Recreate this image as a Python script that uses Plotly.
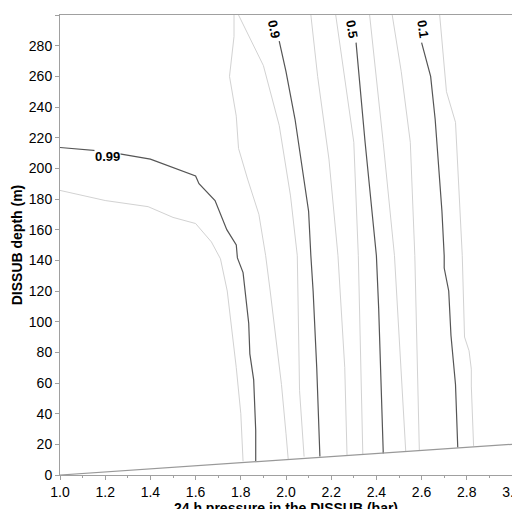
import plotly.graph_objects as go

# dark contours (labelled)
c099_x = [1.0, 1.2, 1.40, 1.60, 1.615, 1.686, 1.738, 1.78, 1.785, 1.81, 1.835, 1.84, 1.857, 1.866, 1.866]
c099_y = [213.6, 211, 206, 195, 190, 179, 160, 150, 141.6, 132, 99, 79, 62, 29, 9]
c09_x = [1.97, 2.0, 2.04, 2.10, 2.11, 2.12, 2.136, 2.15, 2.15]
c09_y = [283, 263, 232, 172, 143, 120, 70, 16, 12]
c05_x = [2.31, 2.35, 2.40, 2.41, 2.43, 2.43]
c05_y = [282, 217, 143, 109, 16, 14]
c01_x = [2.60, 2.64, 2.66, 2.69, 2.70, 2.70, 2.72, 2.73, 2.75, 2.76]
c01_y = [282, 260, 232, 172, 143, 135, 120, 91, 59, 18]

# light contours
l1_x = [1.0, 1.2, 1.39, 1.5, 1.6, 1.67, 1.71, 1.74, 1.78, 1.80, 1.81]
l1_y = [185.6, 179, 175, 168, 164, 152, 141, 120, 70, 40, 9]
l2_x = [1.77, 1.77, 1.75, 1.78, 1.79, 1.83, 1.88, 1.91, 1.93, 1.98, 2.0, 2.01]
l2_y = [300, 286, 260, 234, 213, 193, 170, 143, 120, 59, 27, 10]
l3_x = [1.79, 1.90, 1.97, 2.02, 2.05, 2.06, 2.08]
l3_y = [300, 267, 228, 182, 143, 55, 12]
l4_x = [2.11, 2.14, 2.19, 2.23, 2.26, 2.27]
l4_y = [300, 260, 206, 143, 70, 13]
l5_x = [2.22, 2.26, 2.30, 2.32, 2.34]
l5_y = [300, 260, 217, 143, 13]
l6_x = [2.37, 2.40, 2.43, 2.48, 2.53]
l6_y = [300, 260, 217, 143, 15]
l7_x = [2.47, 2.51, 2.55, 2.57, 2.59]
l7_y = [300, 263, 217, 143, 16]
l8_x = [2.68, 2.71, 2.75, 2.77, 2.78, 2.79, 2.81, 2.82, 2.82, 2.83]
l8_y = [300, 250, 230, 174, 143, 90, 81, 69, 58, 19]

floor_x = [1.0, 3.0]
floor_y = [0, 20]

labels = ["0.99", "0.9", "0.5", "0.1"]
label_x = [1.21, 1.945, 2.29, 2.605]
label_y = [208, 291, 291, 291]
label_angle = [0, 78, 80, 82]

fig = go.Figure()
for xs, ys in [(l1_x, l1_y), (l2_x, l2_y), (l3_x, l3_y), (l4_x, l4_y),
               (l5_x, l5_y), (l6_x, l6_y), (l7_x, l7_y), (l8_x, l8_y)]:
    fig.add_trace(go.Scatter(x=xs, y=ys, mode='lines', line=dict(color='#d2d2d2', width=1)))
for xs, ys in [(c099_x, c099_y), (c09_x, c09_y), (c05_x, c05_y), (c01_x, c01_y)]:
    fig.add_trace(go.Scatter(x=xs, y=ys, mode='lines', line=dict(color='#555555', width=1.2)))
fig.add_trace(go.Scatter(x=floor_x, y=floor_y, mode='lines', line=dict(color='#999999', width=1.2)))

for t, x, y, a in zip(labels, label_x, label_y, label_angle):
    fig.add_annotation(x=x, y=y, text="<b>%s</b>" % t, showarrow=False, textangle=a,
                       bgcolor='white', borderpad=0, font=dict(size=13, color='black'))

axis_style = dict(showline=True, linecolor='#a0a0a0', mirror=True, ticks='outside', ticklen=4,
                  tickcolor='#a0a0a0', showgrid=False, zeroline=False,
                  tickfont=dict(size=14, color='black'))
fig.update_layout(
    width=520, height=509, plot_bgcolor='white', paper_bgcolor='white', showlegend=False,
    margin=dict(l=52, r=13, t=6, b=42),
    font=dict(family='Liberation Sans, Arial', color='black'),
    xaxis=dict(range=[1.0, 3.0], dtick=0.2, tickformat='.1f',
               minor=dict(dtick=0.1, ticks='outside', ticklen=2, tickcolor='#a0a0a0'),
               title=dict(text='<b>24 h pressure in the DISSUB (bar)</b>', font=dict(size=14), standoff=0),
               **axis_style),
    yaxis=dict(range=[0, 300], dtick=20,
               title=dict(text='<b>DISSUB depth (m)</b>', font=dict(size=14), standoff=2),
               **axis_style),
)
fig.write_html("out.html")
